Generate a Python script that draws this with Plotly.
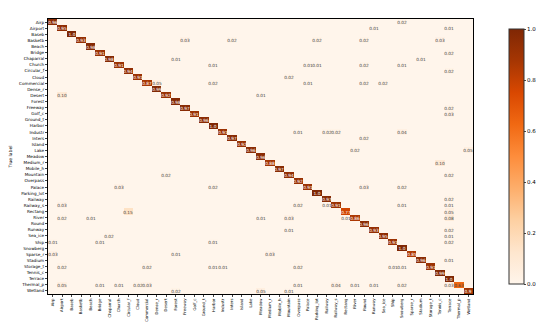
import plotly.graph_objects as go

labels = ["Airp", "Airport", "Baseb", "Basketb", "Beach", "Bridge", "Chaparral", "Church",
          "Circular_f", "Cloud", "Commercial", "Dense_r", "Desert", "Forest", "Freeway",
          "Golf_c", "Ground_t", "Harbor", "Industr", "Inters", "Island", "Lake", "Meadow",
          "Medium_r", "Mobile_h", "Mountain", "Overpass", "Palace", "Parking_lot", "Railway",
          "Railway_s", "Rectang", "River", "Round", "Runway", "Sea_ice", "Ship", "Snowberg",
          "Sparse_r", "Stadium", "Storage_t", "Tennis_c", "Terrace", "Thermal_p", "Wetland"]

diag_values = [0.96, 0.95, 1.0, 0.93, 0.98, 0.91, 0.98, 0.91, 0.94, 0.91, 0.87, 0.99, 0.92,
               0.98, 0.97, 0.91, 0.96, 1.0, 0.91, 0.97, 0.92, 0.96, 0.96, 0.88, 0.97, 0.94,
               0.92, 0.91, 1.0, 0.97, 0.91, 0.77, 0.86, 0.96, 0.93, 0.95, 0.91, 1.0, 0.85,
               0.96, 0.91, 0.99, 1.0, 0.63, 0.9]

off_rows = [0, 1, 1, 3, 3, 3, 3, 3, 5, 6, 6, 7, 7, 7, 7, 7, 8, 9,
            10, 10, 10, 10, 10, 12, 12, 14, 15, 18, 18, 18, 18, 19, 21, 21, 23,
            25, 25, 27, 27, 27, 27, 29, 30, 30, 30, 30, 30, 31, 31,
            32, 32, 32, 32, 32, 32, 34, 34, 35, 35, 36, 36, 36, 36,
            38, 38, 38, 39, 40, 40, 40, 40, 40, 40, 40,
            43, 43, 43, 43, 43, 43, 43, 43, 43, 43, 43, 44, 44, 44]
off_cols = [37, 34, 42, 14, 19, 28, 33, 41, 42, 13, 39, 17, 27, 28, 33, 37, 42, 25,
            11, 17, 27, 33, 35, 1, 22, 42, 42, 26, 29, 30, 37, 33, 32, 44, 41,
            12, 42, 7, 17, 33, 37, 42, 1, 26, 29, 37, 42, 8, 42,
            1, 4, 22, 25, 31, 42, 25, 42, 6, 42, 0, 5, 17, 42,
            0, 13, 23, 42, 1, 10, 17, 18, 26, 36, 37,
            1, 5, 7, 9, 10, 26, 30, 32, 34, 37, 42, 13, 22, 25]
off_values = [0.02, 0.01, 0.01, 0.03, 0.02, 0.02, 0.02, 0.03, 0.02, 0.01, 0.01, 0.01, 0.01, 0.01, 0.02, 0.01, 0.02, 0.02,
              0.05, 0.02, 0.01, 0.02, 0.02, 0.10, 0.01, 0.02, 0.03, 0.01, 0.02, 0.02, 0.04, 0.02, 0.02, 0.05, 0.10,
              0.02, 0.02, 0.03, 0.02, 0.03, 0.02, 0.02, 0.03, 0.02, 0.01, 0.01, 0.01, 0.15, 0.05,
              0.02, 0.01, 0.01, 0.03, 0.01, 0.08, 0.01, 0.02, 0.02, 0.01, 0.01, 0.01, 0.01, 0.02,
              0.03, 0.01, 0.03, 0.01, 0.02, 0.02, 0.01, 0.01, 0.02, 0.01, 0.01,
              0.05, 0.01, 0.01, 0.02, 0.03, 0.01, 0.04, 0.01, 0.01, 0.02, 0.03, 0.02, 0.05, 0.01]

n = len(labels)
z = [[0.0] * n for _ in range(n)]
text = [[""] * n for _ in range(n)]
for i, v in enumerate(diag_values):
    z[i][i] = v
    s = f"{v:.2f}"
    if s.endswith("0"):
        s = s[:-1]
    text[i][i] = s
for r, c, v in zip(off_rows, off_cols, off_values):
    z[r][c] = v
    text[r][c] = f"{v:.2f}"

idx = list(range(n))

fig = go.Figure(go.Heatmap(
    z=z, x=idx, y=idx, text=text, texttemplate="%{text}",
    textfont=dict(size=4.3, family="DejaVu Sans"),
    colorscale="Oranges", zmin=0, zmax=1,
    colorbar=dict(x=1.06, xanchor="left", y=0.5, yanchor="middle", len=1, lenmode="fraction",
                  thickness=15, outlinewidth=1, outlinecolor="#333",
                  tickvals=[0, 0.2, 0.4, 0.6, 0.8, 1.0], tickformat=".1f",
                  ticks="outside", ticklen=2, tickfont=dict(size=5.5, family="DejaVu Sans")),
))

fig.update_layout(
    width=550, height=323,
    margin=dict(l=40, r=59, t=11, b=37),
    paper_bgcolor="white", plot_bgcolor="white",
    font=dict(family="DejaVu Sans", color="black"),
)
fig.update_xaxes(tickmode="array", tickvals=idx, ticktext=labels,
                 range=[-0.5, n - 0.5], automargin=False,
                 tickangle=-90, tickfont=dict(size=3.9), ticks="outside", ticklen=2,
                 showline=True, linecolor="black", linewidth=1, mirror=True,
                 showgrid=False, zeroline=False)
fig.update_yaxes(tickmode="array", tickvals=idx, ticktext=labels,
                 range=[n - 0.5, -0.5], automargin=False,
                 tickfont=dict(size=4.2), ticks="outside", ticklen=2,
                 showline=True, linecolor="black", linewidth=1, mirror=True,
                 showgrid=False, zeroline=False,
                 title=dict(text="True label", font=dict(size=4.5)))

fig.write_html("out.html")
